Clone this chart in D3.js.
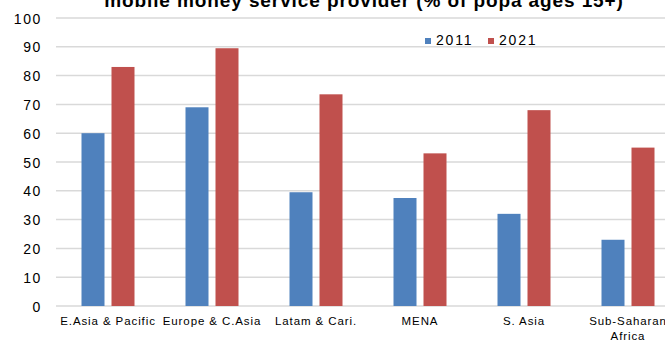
<!DOCTYPE html>
<html>
<head>
<meta charset="utf-8">
<script src="https://cdn.jsdelivr.net/npm/d3@7"></script>
<style>
  html, body { margin: 0; padding: 0; background: #fff; }
  svg { display: block; font-family: "Liberation Sans", Arial, sans-serif; }
</style>
</head>
<body>
<svg id="chart" width="665" height="342"></svg>
<script>
// Regions and account ownership shares (% of population ages 15+)
const regions = ["E.Asia & Pacific", "Europe & C.Asia", "Latam & Cari.", "MENA", "S. Asia", "Sub-Saharan Africa"];
const regionLines = [["E.Asia & Pacific"], ["Europe & C.Asia"], ["Latam & Cari."], ["MENA"], ["S. Asia"], ["Sub-Saharan", "Africa"]];
const years = ["2011", "2021"];
const values2011 = [60, 69, 39.5, 37.5, 32, 23];
const values2021 = [83, 89.5, 73.5, 53, 68, 55];
const yTicks = [0, 10, 20, 30, 40, 50, 60, 70, 80, 90, 100];
const colors = ["#4f81bd", "#c0504d"];
const title = "mobile money service provider (% of popa ages 15+)";

const seriesValues = [values2011, values2021];
const rows = regions.map((r, i) => ({ region: r, lines: regionLines[i], vals: years.map((y, j) => ({ year: y, value: seriesValues[j][i] })) }));

const svg = d3.select("#chart");

const x0 = d3.scaleBand().domain(regions).range([56, 680]).paddingInner(0).paddingOuter(0);
const x1 = d3.scaleBand().domain(years).range([0, x0.bandwidth()]).paddingInner(0.2333).paddingOuter(0.85);
const y = d3.scaleLinear().domain([0, 100]).range([306, 18]);
const color = d3.scaleOrdinal().domain(years).range(colors);

// Title (last line of a longer heading running off the top)
svg.append("text")
  .attr("x", 364).attr("y", 7)
  .attr("text-anchor", "middle")
  .attr("font-weight", "bold")
  .attr("font-size", 19)
  .attr("letter-spacing", 0.9)
  .attr("fill", "#000")
  .text(title);

// Horizontal gridlines
svg.append("g")
  .selectAll("line")
  .data(yTicks)
  .join("line")
  .attr("x1", 56).attr("x2", 680)
  .attr("y1", d => y(d)).attr("y2", d => y(d))
  .attr("stroke", "#d9d9d9")
  .attr("stroke-width", 1.5);

// Y axis labels
const yAxis = d3.axisLeft(y).tickValues(yTicks).tickSize(0).tickPadding(0).tickFormat(d3.format("d"));
const gy = svg.append("g").attr("transform", "translate(42,0)").call(yAxis);
gy.select(".domain").remove();
gy.selectAll("text")
  .attr("font-family", "'Liberation Sans', Arial, sans-serif")
  .attr("font-size", 14)
  .attr("letter-spacing", 1.6)
  .attr("fill", "#000")
  .attr("dy", "0.36em");

// Bars
svg.append("g")
  .selectAll("g")
  .data(rows)
  .join("g")
  .attr("transform", d => `translate(${x0(d.region)},0)`)
  .selectAll("rect")
  .data(d => d.vals)
  .join("rect")
  .attr("x", d => x1(d.year))
  .attr("width", x1.bandwidth())
  .attr("y", d => y(d.value))
  .attr("height", d => y(0) - y(d.value))
  .attr("fill", d => color(d.year));

// Category labels
const xAxis = d3.axisBottom(x0).tickSize(0).tickFormat("");
const gx = svg.append("g").attr("transform", `translate(0,${y(0)})`).call(xAxis);
gx.select(".domain").remove();
gx.selectAll(".tick").each(function(d, i) {
  const t = d3.select(this).append("text")
    .attr("text-anchor", "middle")
    .attr("font-family", "'Liberation Sans', Arial, sans-serif")
    .attr("font-size", 11.5)
    .attr("letter-spacing", 0.9)
    .attr("fill", "#000")
    .attr("y", 19);
  regionLines[i].forEach((line, k) => {
    t.append("tspan").attr("x", 0).attr("dy", k === 0 ? 0 : 15).text(line);
  });
});

// Legend
const legend = svg.append("g")
  .selectAll("g")
  .data(years)
  .join("g")
  .attr("transform", (d, i) => `translate(${425 + i * 63},0)`);
legend.append("rect")
  .attr("x", 0).attr("y", 38)
  .attr("width", 6).attr("height", 6)
  .attr("fill", d => color(d));
legend.append("text")
  .attr("x", 11).attr("y", 44.5)
  .attr("font-size", 14)
  .attr("letter-spacing", 1.8)
  .attr("fill", "#000")
  .text(d => d);
</script>
</body>
</html>
